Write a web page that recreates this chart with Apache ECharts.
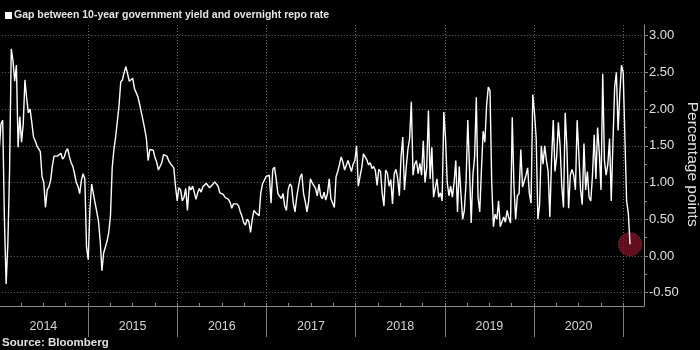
<!DOCTYPE html>
<html>
<head>
<meta charset="utf-8">
<script src="https://cdn.jsdelivr.net/npm/echarts@6/dist/echarts.min.js"></script>
<style>
  html, body { margin: 0; padding: 0; background: #000; }
  #chart { width: 700px; height: 350px; }
</style>
</head>
<body>
<div id="chart"></div>
<script>
// Gap between the 10-year government bond yield and the overnight repo rate,
// weekly (Friday) readings, in percentage points.
const titleText = 'Gap between 10-year government yield and overnight repo rate';
const sourceText = 'Source: Bloomberg';
const axisName = 'Percentage points';
const yearLabels = ['2014', '2015', '2016', '2017', '2018', '2019', '2020'];

// first Friday (day of January) of each year
const firstFriday = { 2014: 3, 2015: 2, 2016: 1, 2017: 6, 2018: 5, 2019: 4, 2020: 3, 2021: 1 };

const gap2014 = [1.45, 1.8, 1.85, 0.5, -0.38, 0.16, 1.15, 2.82, 2.66, 2.38, 2.6, 1.48, 1.9, 1.55, 1.8, 2.4,
  2.15, 1.95, 2.0, 1.82, 1.62, 1.57, 1.5, 1.5, 1.42, 1.08, 1.0, 0.66, 0.9, 0.94, 1.03, 1.22, 1.36, 1.35,
  1.36, 1.34, 1.4, 1.32, 1.35, 1.43, 1.46, 1.35, 1.27, 1.22, 1.12, 1.0, 0.95, 0.85, 1.03, 1.12, 1.05, 0.12];
const gap2015 = [-0.05, 0.65, 0.98, 1.0, 0.72, 0.6, 0.47, 0.2, -0.2, 0.04, 0.05, 0.2, 0.32, 0.55, 1.2, 1.45,
  1.62, 1.83, 2.05, 2.37, 2.4, 2.5, 2.58, 2.48, 2.38, 2.38, 2.42, 2.28, 2.27, 2.17, 2.07, 1.96, 1.85, 1.73,
  1.6, 1.3, 1.45, 1.43, 1.44, 1.34, 1.28, 1.17, 1.18, 1.27, 1.38, 1.4, 1.36, 1.3, 1.26, 1.23, 1.2, 0.95];
const gap2016 = [0.75, 0.93, 0.9, 0.75, 0.8, 0.92, 0.62, 0.95, 0.9, 0.95, 0.87, 0.77, 0.86, 0.92, 0.87, 0.94,
  0.94, 0.99, 1.0, 0.93, 0.95, 0.98, 1.01, 1.02, 0.95, 0.86, 0.86, 0.84, 0.8, 0.8, 0.77, 0.73, 0.65, 0.71,
  0.7, 0.71, 0.68, 0.6, 0.54, 0.45, 0.42, 0.5, 0.47, 0.32, 0.5, 0.62, 0.59, 0.57, 0.55, 0.86, 0.98, 0.96, 1.08];
const gap2017 = [1.1, 1.1, 0.72, 1.18, 1.21, 1.05, 0.85, 0.85, 0.78, 0.85, 0.68, 0.62, 0.9, 0.98, 0.95, 0.72,
  0.6, 0.8, 0.94, 1.07, 1.12, 0.85, 0.74, 0.6, 0.75, 1.05, 1.0, 0.98, 0.92, 0.82, 0.98, 0.82, 0.78, 0.87,
  0.76, 0.85, 1.05, 0.78, 0.72, 0.66, 1.08, 1.15, 1.13, 1.35, 1.28, 1.17, 1.18, 1.3, 1.32, 1.15, 1.25, 1.3];
const gap2018 = [1.5, 0.95, 1.08, 1.2, 1.39, 1.38, 1.31, 1.24, 1.27, 1.19, 1.22, 1.16, 0.96, 1.18, 1.15, 0.85,
  0.68, 1.17, 1.13, 0.95, 1.04, 0.71, 1.12, 1.18, 1.06, 0.82, 1.35, 1.62, 0.9, 1.2, 1.45, 1.6, 2.1, 1.1,
  1.25, 1.3, 1.12, 1.26, 1.1, 1.57, 1.0, 1.2, 1.98, 1.05, 1.48, 0.8, 0.78, 1.05, 0.8, 0.86, 0.75, 1.96];
const gap2019 = [1.6, 1.0, 0.82, 0.95, 0.8, 1.0, 1.3, 0.6, 1.22, 0.85, 0.5, 0.62, 1.0, 1.85, 1.2, 0.45,
  1.1, 1.35, 2.16, 0.8, 0.6, 1.18, 1.7, 1.55, 2.05, 2.3, 2.25, 1.0, 0.4, 0.57, 0.5, 0.75, 0.4, 0.42,
  0.53, 0.46, 0.62, 0.52, 0.45, 1.89, 0.95, 0.5, 0.82, 0.85, 1.45, 0.94, 0.92, 1.1, 1.2, 0.85, 0.72, 2.2];
const gap2020 = [1.95, 1.6, 0.5, 0.7, 1.5, 1.25, 1.5, 1.3, 1.15, 0.53, 1.3, 1.85, 1.15, 1.35, 1.82, 1.5,
  0.95, 0.66, 1.95, 1.48, 0.65, 1.1, 1.18, 1.1, 0.9, 1.85, 1.38, 0.9, 0.7, 1.53, 0.9, 1.15, 0.8, 0.75,
  1.1, 1.65, 1.05, 1.75, 1.4, 0.9, 2.48, 1.3, 1.1, 1.25, 1.6, 0.75, 1.55, 2.3, 2.5, 1.71, 2.2, 2.6];
const gap2021 = [2.5, 1.6, 0.75, 0.58, 0.16];

const gapByYear = { 2014: gap2014, 2015: gap2015, 2016: gap2016, 2017: gap2017,
  2018: gap2018, 2019: gap2019, 2020: gap2020, 2021: gap2021 };

// convert each weekly reading to a fractional-year position on the horizontal axis
const points = [];
Object.keys(gapByYear).forEach(function (key) {
  const year = Number(key);
  const start = Date.UTC(year, 0, 1);
  const length = Date.UTC(year + 1, 0, 1) - start;
  gapByYear[key].forEach(function (v, k) {
    const t = Date.UTC(year, 0, firstFriday[year] + 7 * k);
    points.push([year + (t - start) / length, v]);
  });
});
const lastPoint = points[points.length - 1];

const X_MIN = 2014, X_MAX = 2021.2332;
const FONT = 'Liberation Sans';
const gridLine = { color: '#666', type: [1, 2], width: 1 };
const frameColor = '#8c8c8c';

const chart = echarts.init(document.getElementById('chart'));
chart.setOption({
  backgroundColor: '#000',
  animation: false,
  title: [
    {
      text: '{box| }{txt|' + titleText + '}',
      left: 5, top: 10, padding: 0,
      textStyle: {
        rich: {
          box: { width: 7, height: 7, backgroundColor: '#fff' },
          txt: { color: '#e6e6e6', fontSize: 10.5, fontFamily: FONT, padding: [0, 0, 0, 2] }
        }
      }
    },
    {
      text: sourceText, left: 2, bottom: 1, padding: 0,
      textStyle: { color: '#e0e0e0', fontSize: 11.5, fontWeight: 'bold', fontFamily: FONT }
    }
  ],
  grid: [
    // data area, value scale -0.5..3
    { left: -1.2, right: 56, top: 35.7, bottom: 57.3, containLabel: false, outerBoundsMode: 'none' },
    // frame: axis lines, quarter ticks, year lines
    { left: -1.2, right: 56, top: 25, bottom: 44, containLabel: false, outerBoundsMode: 'none' },
    // year bands with centred labels
    { left: -1.2, right: 76.8, top: 25, bottom: 44, containLabel: false, outerBoundsMode: 'none' }
  ],
  xAxis: [
    { gridIndex: 0, type: 'value', min: X_MIN, max: X_MAX, show: false },
    {
      gridIndex: 1, type: 'value', min: X_MIN, max: X_MAX, interval: 0.25,
      axisLine: { show: true, lineStyle: { color: frameColor, width: 1 } },
      axisTick: { show: true, inside: true, length: 3, lineStyle: { color: frameColor } },
      axisLabel: { show: false }, splitLine: { show: false }
    },
    {
      gridIndex: 1, type: 'value', min: X_MIN, max: X_MAX, interval: 1,
      axisLine: { show: false }, axisTick: { show: false }, axisLabel: { show: false },
      splitLine: { show: true, lineStyle: gridLine }
    },
    {
      gridIndex: 2, type: 'category', data: yearLabels, boundaryGap: true,
      axisLine: { show: false },
      axisTick: { show: true, length: 31, lineStyle: { color: '#7a7a7a' } },
      axisLabel: { color: '#d4d4d4', fontSize: 12.5, fontFamily: FONT, margin: 14 },
      splitLine: { show: false }
    }
  ],
  yAxis: [
    {
      gridIndex: 0, type: 'value', position: 'right', min: -0.5, max: 3, interval: 0.5,
      axisLine: { show: false },
      axisTick: { show: true, length: 4, lineStyle: { color: frameColor } },
      minorTick: { show: true, splitNumber: 2, length: 3, lineStyle: { color: frameColor } },
      axisLabel: {
        color: '#e0e0e0', fontSize: 13, fontFamily: FONT, margin: 5,
        formatter: function (v) { return v.toFixed(2); }
      },
      splitLine: { show: true, lineStyle: gridLine },
      name: axisName, nameLocation: 'middle', nameRotate: -90, nameGap: 40,
      nameMoveOverlap: false,
      nameTextStyle: { color: '#e0e0e0', fontSize: 15.5, fontFamily: FONT }
    },
    {
      gridIndex: 1, type: 'value', position: 'right', min: 0, max: 1,
      axisLine: { show: true, lineStyle: { color: frameColor, width: 1 } },
      axisTick: { show: false }, axisLabel: { show: false }, splitLine: { show: false }
    },
    { gridIndex: 2, type: 'value', show: false }
  ],
  series: [
    {
      name: titleText, type: 'line', xAxisIndex: 0, yAxisIndex: 0,
      data: points, showSymbol: false, symbol: 'none',
      lineStyle: { color: '#ffffff', width: 1.4 }, itemStyle: { color: '#ffffff' },
      z: 3
    },
    {
      type: 'scatter', xAxisIndex: 0, yAxisIndex: 0, data: [lastPoint],
      symbolSize: 23, silent: true, z: 2,
      itemStyle: { color: '#7a1226', borderColor: '#d8324a', borderWidth: 1, borderType: 'dotted' }
    }
  ]
});
</script>
</body>
</html>
